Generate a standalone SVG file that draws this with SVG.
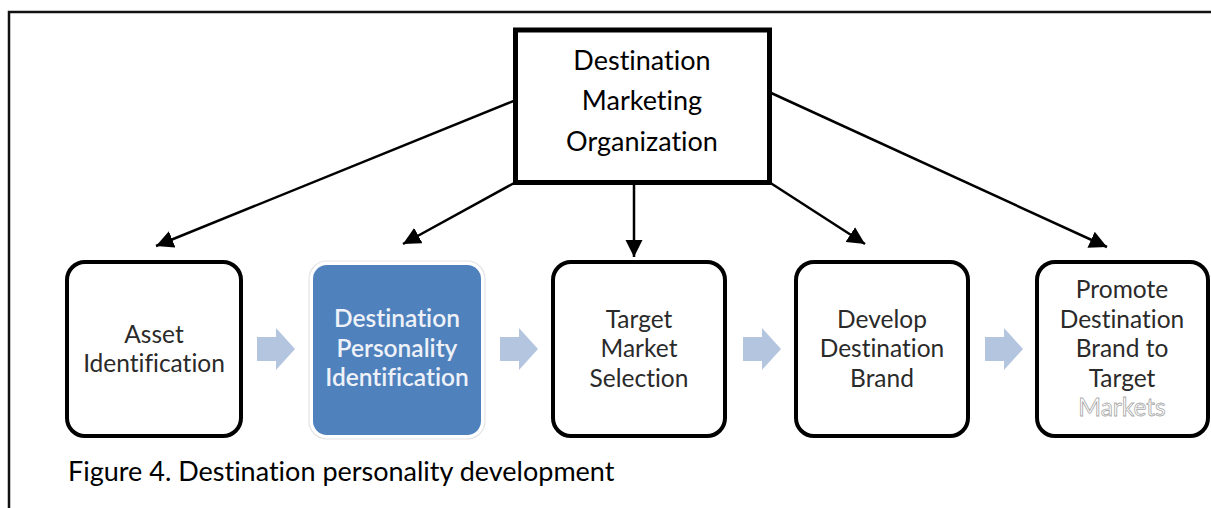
<svg xmlns="http://www.w3.org/2000/svg" width="1211" height="508" viewBox="0 0 1211 508">
<defs>
<style>
.t{font-family:Lato,"Open Sans","Liberation Sans",sans-serif;text-anchor:middle;font-variant-ligatures:none}
.top{font-size:27px;fill:#000}
.lab{font-size:24.5px;fill:#2a2a2a}
.wl{font-size:24.5px;fill:#eef2f8;font-weight:600}
.box{fill:#fff;stroke:#000;stroke-width:4}
.conn{stroke:#000;stroke-width:2.5;fill:none}
.blk{fill:#b4c5e0}
</style>
<marker id="ah" viewBox="0 0 10 10" refX="10" refY="5" markerWidth="7" markerHeight="7" markerUnits="strokeWidth" orient="auto">
<path d="M0,0 L10,5 L0,10 z" fill="#000"/>
</marker>
</defs>
<rect width="1211" height="508" fill="#fff"/>
<path d="M9,508 V12 H1211" fill="none" stroke="#111" stroke-width="2.5"/>

<g id="connectors">
<line class="conn" x1="516" y1="100" x2="156" y2="246" marker-end="url(#ah)"/>
<line class="conn" x1="516" y1="182" x2="403" y2="244" marker-end="url(#ah)"/>
<line class="conn" x1="634" y1="183" x2="634" y2="257" marker-end="url(#ah)"/>
<line class="conn" x1="769" y1="182" x2="865" y2="244" marker-end="url(#ah)"/>
<line class="conn" x1="769" y1="92" x2="1107" y2="247" marker-end="url(#ah)"/>
<path class="blk" d="M257,337 H276 V328 L295,349 L276,370 V361 H257 z"/>
<path class="blk" d="M500,337 H519 V328 L538,349 L519,370 V361 H500 z"/>
<path class="blk" d="M743,337 H762 V328 L781,349 L762,370 V361 H743 z"/>
<path class="blk" d="M985,337 H1004 V328 L1023,349 L1004,370 V361 H985 z"/>
</g>

<g id="dmo">
<rect x="515.5" y="30" width="254" height="152.5" fill="#fff" stroke="#000" stroke-width="5"/>
<text class="t top" x="642" y="70">Destination</text>
<text class="t top" x="642" y="110">Marketing</text>
<text class="t top" x="642" y="151">Organization</text>
</g>

<g id="asset">
<rect class="box" x="67" y="262" width="174" height="174" rx="18"/>
<text class="t lab" x="154" y="343">Asset</text>
<text class="t lab" x="154" y="372">Identification</text>
</g>

<g id="personality">
<rect x="309" y="261" width="176" height="178" rx="18" fill="#fff" stroke="#e4e4e4" stroke-width="1.2"/>
<rect x="313" y="265" width="168" height="170" rx="14" fill="#4f81bd"/>
<text class="t wl" x="397" y="327">Destination</text>
<text class="t wl" x="397" y="357">Personality</text>
<text class="t wl" x="397" y="386">Identification</text>
</g>

<g id="target">
<rect class="box" x="553" y="262" width="172" height="174" rx="18"/>
<text class="t lab" x="639" y="328">Target</text>
<text class="t lab" x="639" y="357">Market</text>
<text class="t lab" x="639" y="387">Selection</text>
</g>

<g id="brand">
<rect class="box" x="796" y="262" width="172" height="174" rx="18"/>
<text class="t lab" x="882" y="328">Develop</text>
<text class="t lab" x="882" y="357">Destination</text>
<text class="t lab" x="882" y="387">Brand</text>
</g>

<g id="promote">
<rect class="box" x="1037" y="262" width="171" height="174" rx="18"/>
<text class="t lab" x="1122" y="298">Promote</text>
<text class="t lab" x="1122" y="328">Destination</text>
<text class="t lab" x="1122" y="357">Brand to</text>
<text class="t lab" x="1122" y="387">Target</text>
<text class="t lab" x="1122" y="416" style="fill:#fff;stroke:#a8a8a8;stroke-width:0.8">Markets</text>
</g>

<text id="caption" x="68" y="481" style="font-family:Lato,'Open Sans','Liberation Sans',sans-serif;font-size:27px;fill:#000;font-variant-ligatures:none">Figure 4. Destination personality development</text>
</svg>
